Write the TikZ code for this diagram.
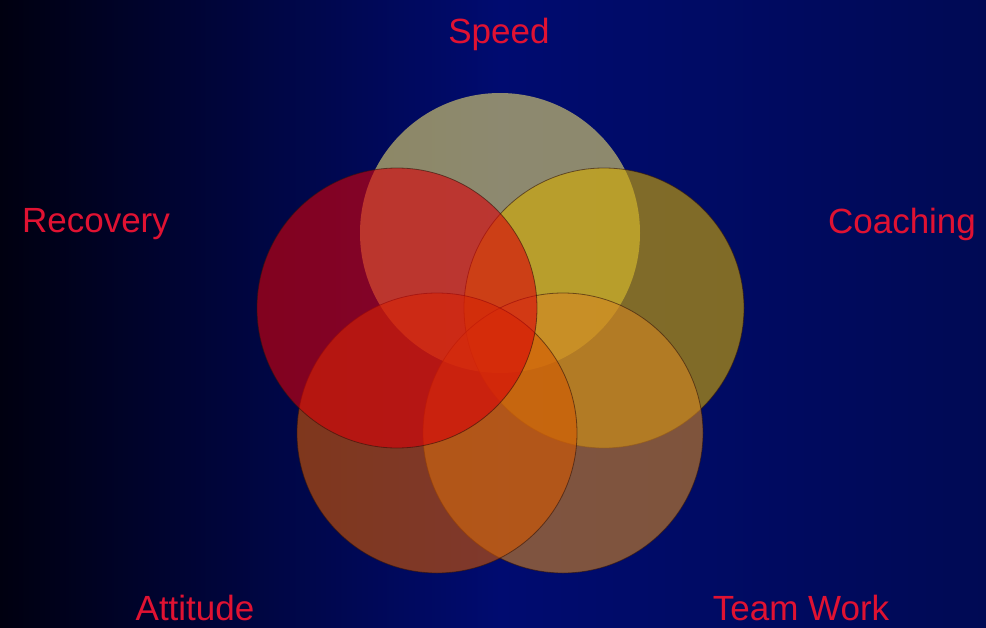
\documentclass[tikz,border=0pt]{standalone}
\usepackage{fontspec}
\setmainfont{Liberation Sans}
\definecolor{bgL}{RGB}{0,0,16}
\definecolor{bgM}{RGB}{0,11,112}
\definecolor{bgR}{RGB}{0,10,84}
\definecolor{lbl}{RGB}{224,18,50}
\definecolor{cSpeed}{RGB}{236,222,112}
\definecolor{cRec}{RGB}{218,0,8}
\definecolor{cCoach}{RGB}{214,172,0}
\definecolor{cAtt}{RGB}{212,88,0}
\definecolor{cTeam}{RGB}{212,134,34}
\definecolor{edge}{RGB}{50,20,10}
\begin{document}
\begin{tikzpicture}[x=1pt,y=-1pt,
  ring/.style={circle, inner sep=0pt, minimum size=280pt, fill opacity=0.6, draw=edge, draw opacity=0.6, line width=0.8pt},
  lab/.style={text=lbl, font=\fontsize{35}{35}\selectfont, anchor=base, inner sep=0pt}]
\useasboundingbox (0,0) rectangle (986,627);
\shade[left color=bgL, right color=bgM] (0,0) rectangle (500,627);
\shade[left color=bgM, right color=bgR] (499.5,0) rectangle (986,627);
\node[ring, fill=cSpeed, draw opacity=0] (speed) at (500,233) {};
\node[ring, fill=cCoach] (coach) at (604,308) {};
\node[ring, fill=cTeam] (team) at (563,433) {};
\node[ring, fill=cAtt] (att) at (437,433) {};
\node[ring, fill=cRec] (rec) at (397,308) {};
\node[lab] (tspeed) at (499,43) {Speed};
\node[lab] (trec) at (96,232) {Recovery};
\node[lab] (tcoach) at (902,233) {Coaching};
\node[lab] (tatt) at (195,620) {Attitude};
\node[lab] (tteam) at (801,620) {Team Work};
\end{tikzpicture}
\end{document}
